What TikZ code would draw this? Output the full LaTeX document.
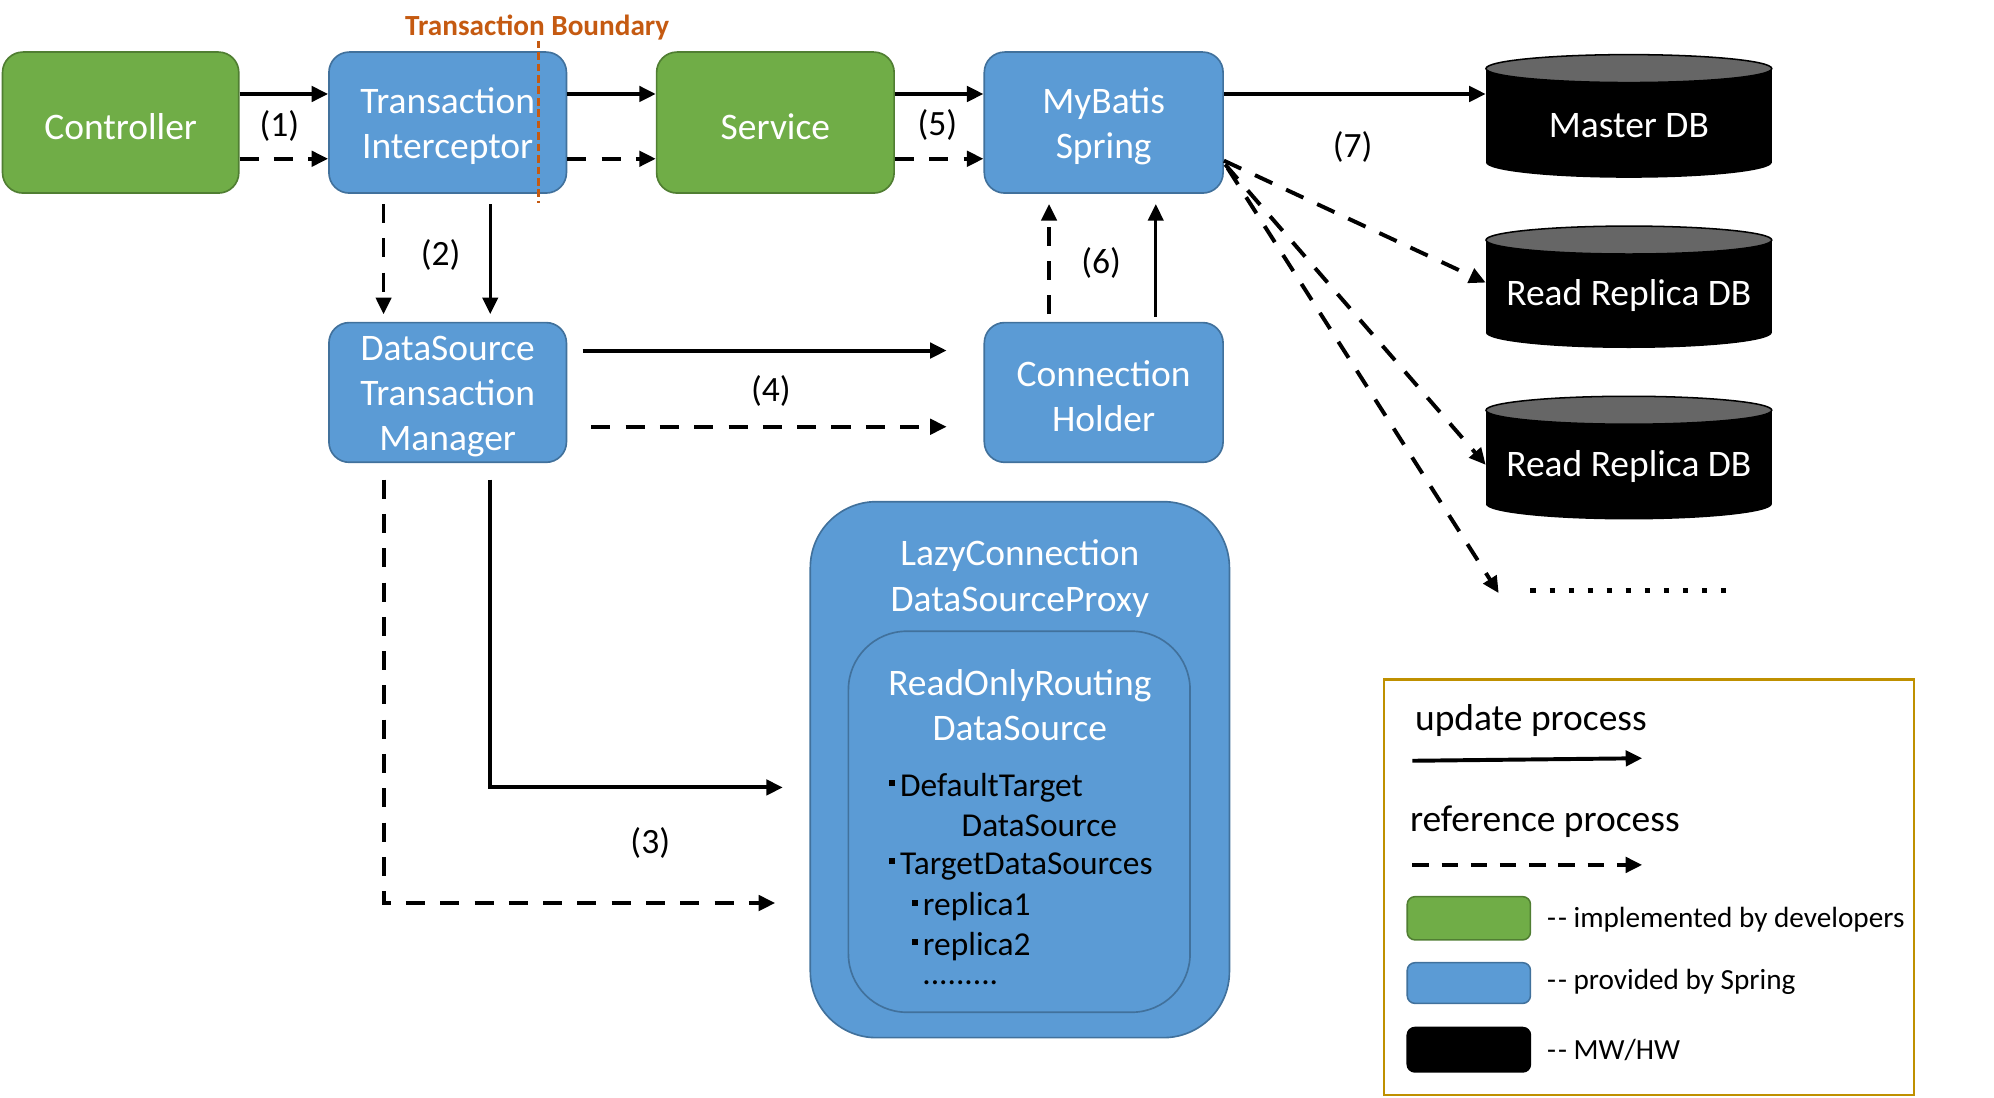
\documentclass[tikz,border=0pt]{standalone}
\usepackage{fontspec}
\setmainfont{Carlito}
\usetikzlibrary{arrows.meta}
\definecolor{cgreen}{HTML}{70AD47}
\definecolor{cgreenb}{HTML}{507E32}
\definecolor{cblue}{HTML}{5B9BD5}
\definecolor{cblueb}{HTML}{41719C}
\definecolor{corange}{HTML}{C55A11}
\definecolor{cgold}{HTML}{BF9000}
\definecolor{cgraytop}{HTML}{666666}
\newcommand{\bx}{\raisebox{0.3em}{\rule{4.5pt}{4.5pt}}\kern4pt}
\newcommand{\dd}{-\kern1.5pt-}
\newcommand{\boxnode}[7]{%
  \node[#1, minimum width=#5pt, minimum height=#6pt] (#2) at (#3,#4) {};
  \node[boxtxt] (#2t) at (#3,#4+3) {#7};}
\begin{document}
\begin{tikzpicture}[x=1pt,y=-1pt,
  boxbase/.style={draw, line width=1.3pt, rounded corners=16pt, inner sep=0pt},
  boxtxt/.style={text=white, align=center, inner sep=0pt, font=\fontsize{29.5}{35.5}\selectfont},
  gbox/.style={boxbase, fill=cgreen, draw=cgreenb},
  bbox/.style={boxbase, fill=cblue, draw=cblueb},
  upd/.style={line width=3.1pt, -{Triangle[length=13pt,width=12pt]}},
  refl/.style={upd, dash pattern=on 15pt off 12pt},
  lbl/.style={font=\fontsize{28}{32}\selectfont, inner sep=0pt},
  legtxt/.style={font=\fontsize{29.5}{34}\selectfont, inner sep=0pt, anchor=west},
  legsm/.style={font=\fontsize{23}{27}\selectfont, inner sep=0pt, anchor=west},
  listtxt/.style={font=\fontsize{26.3}{30}\selectfont, inner sep=0pt, anchor=west, text=black},
  swatch/.style={draw, line width=1.2pt, rounded corners=6pt}
]
\useasboundingbox (0,0) rectangle (1570,864.5);

% top row
\boxnode{gbox}{ctrl}{95}{96.5}{186}{111}{Controller}
\boxnode{bbox}{ti}{352.5}{96.5}{187}{111}{Transaction\\Interceptor}
\boxnode{gbox}{svc}{610.5}{96.5}{187}{111}{Service}
\boxnode{bbox}{mb}{869}{96.5}{188}{111}{MyBatis\\Spring}

% second row
\boxnode{bbox}{dstm}{352.5}{309}{187}{110}{DataSource\\Transaction\\Manager}
\boxnode{bbox}{ch}{869}{309}{188}{110}{Connection\\Holder}

% lazy proxy
\node[bbox, rounded corners=52pt, minimum width=330pt, minimum height=422pt] (lazy) at (803,606) {};
\node[boxtxt] (lazyt) at (803,455.5) {LazyConnection\\DataSourceProxy};
\node[bbox, rounded corners=46pt, minimum width=269pt, minimum height=300pt] (inner) at (802.5,647) {};
\node[boxtxt] (innert) at (803,555) {ReadOnlyRouting\\DataSource};
\node[listtxt] (l1) at (700,620) {\bx DefaultTarget};
\node[listtxt] (l2) at (757,650) {DataSource};
\node[listtxt] (l3) at (700,682) {\bx TargetDataSources};
\node[listtxt] (l4) at (718,714) {\bx replica1};
\node[listtxt] (l5) at (718,745) {\bx replica2};
\node[listtxt] (l6) at (726,774) {.........};

% cylinders
\foreach \nm/\yt/\yb/\txt/\ty in {mdb/42/140/Master DB/99, rr1/177/274/Read Replica DB/233, rr2/311/409/Read Replica DB/367}{
  \fill[black] (1170,\yt+12) rectangle (1395,\yb-12);
  \fill[black] (1282.5,\yb-12) ellipse [x radius=112.5, y radius=12];
  \filldraw[fill=cgraytop, draw=black, line width=1.2pt] (1282.5,\yt+12) ellipse [x radius=112.5, y radius=11];
  \node[minimum width=225pt, minimum height=\yb-\yt, inner sep=0pt] (\nm) at (1282.5,{(\yt+\yb)/2}) {};
  \node[boxtxt] (\nm t) at (1282.5,\ty) {\txt};
}

% dots
\coordinate (dotsend) at (1180,467);
\draw[line width=4pt, dash pattern=on 4pt off 11pt] (1205,465) -- (1362,465);

% transaction boundary
\node[text=corange, font=\bfseries\fontsize{23}{27}\selectfont, inner sep=0pt] (tb) at (423,22) {Transaction Boundary};
\draw[corange, line width=2pt, dash pattern=on 6pt off 3pt] (tb.south -| 424,0) -- (424,160);

% top arrows
\draw[upd] ([yshift=22.5pt]ctrl.east) -- ([yshift=22.5pt]ti.west);
\draw[refl] ([yshift=-28.5pt]ctrl.east) -- ([yshift=-28.5pt]ti.west);
\draw[upd] ([yshift=22.5pt]ti.east) -- ([yshift=22.5pt]svc.west);
\draw[refl] ([yshift=-28.5pt]ti.east) -- ([yshift=-28.5pt]svc.west);
\draw[upd] ([yshift=22.5pt]svc.east) -- ([yshift=22.5pt]mb.west);
\draw[refl] ([yshift=-28.5pt]svc.east) -- ([yshift=-28.5pt]mb.west);
\draw[upd] ([yshift=22.5pt]mb.east) -- ([yshift=17pt]mdb.west);
\draw[refl] ([yshift=-30pt]mb.east) -- ([yshift=3pt]rr1.west);
\draw[refl] ([xshift=1pt,yshift=-33pt]mb.east) -- ([yshift=-6pt]rr2.west);
\draw[refl] ([xshift=3pt,yshift=-36pt]mb.east) -- (dotsend);

% TI -> DSTM
\draw[refl, line width=2.6pt] ([xshift=-50.5pt,yshift=-8pt]ti.south) -- ([xshift=-50.5pt,yshift=6pt]dstm.north);
\draw[upd, line width=2.6pt] ([xshift=33.5pt,yshift=-8pt]ti.south) -- ([xshift=33.5pt,yshift=6pt]dstm.north);

% DSTM -> CH
\draw[upd] ([xshift=12pt,yshift=33pt]dstm.east) -- ([xshift=-29pt,yshift=33pt]ch.west);
\draw[refl] ([xshift=19pt,yshift=-27pt]dstm.east) -- ([xshift=-29pt,yshift=-27pt]ch.west);

% CH -> MB
\draw[refl, line width=2.6pt] ([xshift=-43pt,yshift=6pt]ch.north) -- ([xshift=-43pt,yshift=-8pt]mb.south);
\draw[upd, line width=2.6pt] ([xshift=41pt,yshift=4pt]ch.north) -- ([xshift=41pt,yshift=-8pt]mb.south);

% DSTM -> Lazy
\draw[upd] ([xshift=33.5pt,yshift=-13pt]dstm.south) |- ([xshift=-21pt,yshift=-14pt]lazy.west);
\draw[refl] ([xshift=-50.5pt,yshift=-13pt]dstm.south) |- ([xshift=-27pt,yshift=-105pt]lazy.west);

% step labels
\node[lbl] (n1) at (220,99) {(1)};
\node[lbl] (n2) at (347,201) {(2)};
\node[lbl] (n3) at (512,664) {(3)};
\node[lbl] (n4) at (607,308) {(4)};
\node[lbl] (n5) at (738,98) {(5)};
\node[lbl] (n6) at (867,207) {(6)};
\node[lbl] (n7) at (1065,116) {(7)};

% legend
\node[draw=cgold, line width=1.6pt, minimum width=417pt, minimum height=327pt, inner sep=0pt] (leg) at (1298.5,698.5) {};
\node[legtxt] (lu) at (1114,567) {update process};
\coordinate (lua) at (1112,599);
\coordinate (lub) at (1293,597);
\draw[upd] (lua) -- (lub);
\node[legtxt] (lr) at (1110,647) {reference process};
\coordinate (lra) at (1112,681);
\coordinate (lrb) at (1293,681);
\draw[refl, dash pattern=on 13pt off 10pt] (lra) -- (lrb);
\node[swatch, fill=cgreen, draw=cgreenb, minimum width=97pt, minimum height=34pt] (sg) at (1156.5,723) {};
\node[swatch, fill=cblue, draw=cblueb, minimum width=97pt, minimum height=32pt] (sb) at (1156.5,774) {};
\node[swatch, fill=black, draw=black, minimum width=97pt, minimum height=35pt] (sk) at (1156.5,826.5) {};
\node[legsm] (tg) at (1218,724) {\dd{} implemented by developers};
\node[legsm] (tbl) at (1218,773) {\dd{} provided by Spring};
\node[legsm] (tk) at (1218,827) {\dd{} MW/HW};
\end{tikzpicture}
\end{document}
